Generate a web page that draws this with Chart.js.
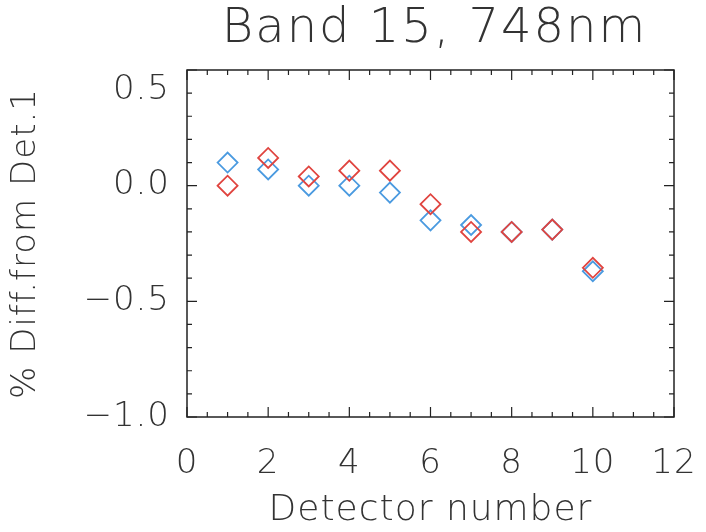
<!DOCTYPE html>
<html>
<head>
<meta charset="utf-8">
<script src="https://cdn.jsdelivr.net/npm/chart.js@4/dist/chart.umd.min.js"></script>
<style>
  html, body { margin: 0; padding: 0; background: #fff; }
  #wrap { width: 706px; height: 532px; }
</style>
</head>
<body>
<div id="wrap"><canvas id="chart" width="706" height="532"></canvas></div>
<script>
// Detector numbers and % difference from detector 1
const detectors = [1, 2, 3, 4, 5, 6, 7, 8, 9, 10];
const blueValues = [0.10, 0.07, 0.00, 0.00, -0.03, -0.15, -0.17, -0.20, -0.19, -0.37];
const redValues = [0.00, 0.12, 0.04, 0.065, 0.065, -0.08, -0.20, -0.20, -0.19, -0.355];
const xTicks = [0, 2, 4, 6, 8, 10, 12];
const yTicks = [-1.0, -0.5, 0.0, 0.5];
const titleText = 'Band 15, 748nm';

const textColor = '#333';
const fontFamily = '"DejaVu Sans", sans-serif';

function toPoints(vals) {
    return detectors.map((d, i) => ({ x: d, y: vals[i] }));
}

// inward tick marks + frame, like the IDL box; title centred on the plot box
const frame = {
    id: 'frame',
    beforeDraw(chart) {
        chart.ctx.letterSpacing = '1px';
    },
    afterDraw(chart) {
        const ctx = chart.ctx;
        const a = chart.chartArea;
        const xs = chart.scales.x, ys = chart.scales.y;
        ctx.save();
        ctx.strokeStyle = '#222';
        ctx.lineWidth = 1.5;
        ctx.strokeRect(a.left, a.top, a.right - a.left, a.bottom - a.top);
        ctx.lineWidth = 1.2;
        ctx.beginPath();
        for (let v = 0; v <= 12.001; v += 0.5) {
            const px = xs.getPixelForValue(v);
            const len = (v % 2 === 0) ? 10 : 5;
            ctx.moveTo(px, a.bottom); ctx.lineTo(px, a.bottom - len);
            ctx.moveTo(px, a.top); ctx.lineTo(px, a.top + len);
        }
        for (let i = -10; i <= 5; i++) {
            const py = ys.getPixelForValue(i / 10);
            const len = (i % 5 === 0) ? 10 : 5;
            ctx.moveTo(a.left, py); ctx.lineTo(a.left + len, py);
            ctx.moveTo(a.right, py); ctx.lineTo(a.right - len, py);
        }
        ctx.stroke();

        ctx.fillStyle = textColor;
        ctx.font = '200 48px ' + fontFamily;
        ctx.letterSpacing = '2px';
        ctx.textAlign = 'center';
        ctx.textBaseline = 'middle';
        ctx.fillText(titleText, (a.left + a.right) / 2 + 4, 30);
        ctx.restore();
    }
};

const ctx = document.getElementById('chart').getContext('2d');
new Chart(ctx, {
    type: 'scatter',
    data: {
        datasets: [
            {
                label: 'red',
                data: toPoints(redValues),
                pointStyle: 'rectRot',
                pointRadius: 10,
                pointBorderWidth: 1.8,
                borderColor: '#e0443f',
                backgroundColor: 'rgba(0,0,0,0)'
            },
            {
                label: 'blue',
                data: toPoints(blueValues),
                pointStyle: 'rectRot',
                pointRadius: 10,
                pointBorderWidth: 1.8,
                borderColor: '#4a9ae0',
                backgroundColor: 'rgba(0,0,0,0)'
            }
        ]
    },
    options: {
        responsive: false,
        animation: false,
        layout: { padding: { left: 0, right: 32, top: 70, bottom: 0 } },
        plugins: {
            legend: { display: false },
            tooltip: { enabled: false },
            title: { display: false }
        },
        scales: {
            x: {
                type: 'linear',
                min: 0,
                max: 12,
                afterBuildTicks(scale) {
                    scale.ticks = xTicks.map(v => ({ value: v }));
                },
                afterFit(scale) {
                    scale.height = 115;
                    scale.paddingLeft = 0;
                    scale.paddingRight = 0;
                },
                grid: { display: false, drawTicks: false },
                border: { display: false },
                ticks: {
                    color: textColor,
                    padding: 27,
                    font: { family: fontFamily, size: 34, weight: 200 },
                    maxRotation: 0,
                    callback: v => String(v)
                },
                title: {
                    display: true,
                    text: 'Detector number',
                    color: textColor,
                    font: { family: fontFamily, size: 36, weight: 200 },
                    padding: { top: 0, bottom: 0 }
                }
            },
            y: {
                type: 'linear',
                min: -1.0,
                max: 0.5,
                afterBuildTicks(scale) {
                    scale.ticks = yTicks.map(v => ({ value: v }));
                },
                afterFit(scale) {
                    scale.width = 187;
                    scale.paddingTop = 0;
                    scale.paddingBottom = 0;
                },
                grid: { display: false, drawTicks: false },
                border: { display: false },
                ticks: {
                    color: textColor,
                    padding: 17,
                    font: { family: fontFamily, size: 34, weight: 200 },
                    // top label sits just under the frame corner, as in the original
                    callback: v => v === 0.5 ? ['', '0.5'] : v.toFixed(1).replace('-', '\u2212')
                },
                title: {
                    display: true,
                    text: '% Diff.from Det.1',
                    color: textColor,
                    font: { family: fontFamily, size: 34, weight: 200 },
                    padding: { top: 6, bottom: 0 }
                }
            }
        }
    },
    plugins: [frame]
});
</script>
</body>
</html>
